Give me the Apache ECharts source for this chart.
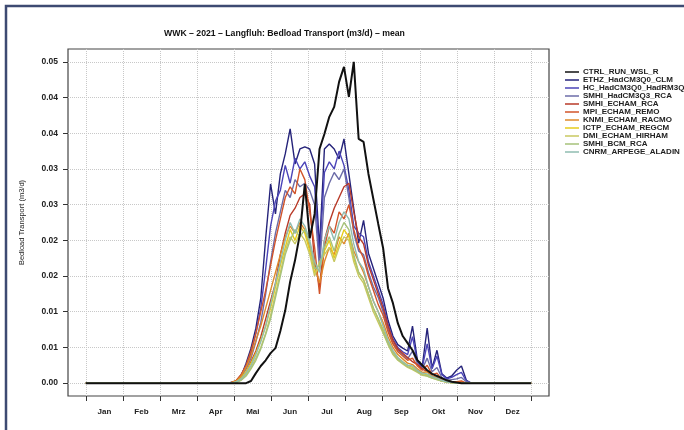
<!DOCTYPE html>
<html><head><meta charset="utf-8">
<script src="https://cdn.jsdelivr.net/npm/echarts@6/dist/echarts.min.js"></script>
<style>html,body{margin:0;padding:0;background:#fff}#c{width:684px;height:430px}</style>
</head><body><div id="c"></div>
<script>
// ---- data (values in 1e-3 m3/d) ----
const months = ['Jan','Feb','Mrz','Apr','Mai','Jun','Jul','Aug','Sep','Okt','Nov','Dez'];
const yTickValues = [0,0.005,0.01,0.015,0.02,0.025,0.03,0.035,0.04,0.045];
const yTickLabels = ['0.00','0.01','0.01','0.02','0.02','0.03','0.03','0.04','0.04','0.05'];
const days = [1,112,116,120,124,128,132,136,140,144,148,152,156,160,164,168,172,176,180,184,188,192,196,200,204,208,212,216,220,224,228,232,236,240,244,248,252,256,260,264,268,272,276,280,284,288,292,296,300,304,308,312,316,365];
const seriesNames = ['CTRL_RUN_WSL_R','ETHZ_HadCM3Q0_CLM','HC_HadCM3Q0_HadRM3Q','SMHI_HadCM3Q3_RCA','SMHI_ECHAM_RCA','MPI_ECHAM_REMO','KNMI_ECHAM_RACMO','ICTP_ECHAM_REGCM','DMI_ECHAM_HIRHAM','SMHI_BCM_RCA','CNRM_ARPEGE_ALADIN'];
const ctrl  = [0,0,0,0,0,0,0,0.3,1.4,2.4,3.2,4.2,4.9,7.3,10.2,14.2,17.2,20.9,27.9,20.3,23.7,32.8,34.9,37.3,38.7,42.2,44.3,40.1,45.0,34.2,33.8,29.3,25.8,22.3,18.9,13.3,11.2,8.4,6.6,5.6,4.6,3.2,2.5,1.8,1.3,1.0,0.7,0.4,0.2,0.1,0,0,0,0];
const ethz  = [0,0,0,0.1,0.2,1.0,2.8,4.9,7.7,11.9,20.3,27.9,23.7,29.3,32.1,35.6,30.7,32.8,33.1,32.8,30.7,18.9,32.8,33.5,32.8,31.4,34.2,29.3,24.4,19.6,22.8,18.2,16.1,14.0,11.9,8.8,6.6,5.4,4.9,4.5,8.0,3.2,2.4,7.7,2.1,4.6,1.3,0.7,1.0,1.8,2.4,0.4,0,0];
const hc    = [0,0,0,0.1,0.3,1.2,2.5,4.2,7.0,10.5,16.0,22.0,25.5,27.0,30.5,28.0,31.5,30.0,31.0,29.0,27.5,17.5,29.5,31.0,30.0,32.5,30.5,27.0,22.0,21.0,20.5,17.0,15.0,13.0,11.0,8.2,6.2,5.0,4.4,4.0,6.5,3.0,2.2,5.5,2.0,3.8,1.2,0.6,0.8,1.2,1.5,0.3,0,0];
const smhiH = [0,0,0,0.1,0.2,0.8,2.0,3.5,5.8,8.5,12.5,17.0,21.0,24.0,27.0,26.0,28.5,27.5,28.0,27.0,25.0,16.0,26.0,28.0,29.5,28.5,30.0,26.0,21.0,18.5,18.0,15.5,13.5,12.0,10.0,7.5,5.6,4.6,4.0,3.4,4.5,2.7,2.0,3.5,1.6,2.2,0.8,0.4,0.5,0.6,0.8,0.2,0,0];
const smhiE = [0,0,0,0,0.1,0.5,1.5,3.0,4.5,6.5,9.0,11.5,14.0,18.0,21.0,23.5,24.5,26.0,26.5,25.0,17.0,13.5,20.0,22.5,24.5,26.0,27.5,28.0,24.0,20.5,19.5,16.5,14.5,12.5,10.5,8.0,6.0,4.8,4.2,3.6,3.0,2.6,2.0,1.6,1.0,0.6,0.3,0.2,0.1,0,0,0,0,0];
const mpi   = [0,0,0,0.1,0.4,1.2,2.5,4.5,7.0,10.0,13.0,16.5,20.0,23.0,26.0,27.5,26.5,30.0,28.5,24.0,19.0,12.5,19.0,22.0,21.0,24.0,23.0,25.0,21.5,19.0,17.5,15.0,13.0,11.0,9.5,7.2,5.5,4.4,3.8,3.2,3.5,2.4,1.8,2.5,1.2,1.4,0.5,0.3,0.2,0.2,0.3,0,0,0];
const knmi  = [0,0,0,0.1,0.3,1.0,2.2,3.8,6.0,8.0,10.5,13.0,15.5,18.0,20.5,22.0,21.0,22.5,21.5,19.0,16.5,14.0,17.0,19.0,18.0,20.5,19.5,21.0,18.5,17.0,15.5,13.5,11.5,10.0,8.5,6.5,5.0,4.0,3.4,2.8,2.6,2.0,1.5,1.6,1.0,0.8,0.4,0.2,0.1,0.1,0.1,0,0,0];
const ictp  = [0,0,0,0,0.2,0.7,1.6,2.8,4.2,6.0,8.0,10.5,13.5,16.5,19.0,21.5,20.0,22.0,21.0,18.5,15.5,16.0,18.5,20.0,17.5,19.5,21.5,20.5,17.5,15.5,14.5,12.5,10.5,9.0,7.5,5.8,4.4,3.5,3.0,2.5,2.2,1.7,1.3,1.2,0.8,0.6,0.3,0.2,0.1,0,0,0,0,0];
const dmi   = [0,0,0,0,0.1,0.5,1.2,2.2,3.5,5.0,7.0,9.5,12.5,15.5,18.5,20.5,19.5,21.0,20.0,18.0,15.0,17.0,18.0,19.0,17.0,19.0,20.5,20.0,17.0,15.0,14.0,12.0,10.0,8.5,7.0,5.4,4.0,3.2,2.7,2.2,1.9,1.5,1.1,1.0,0.7,0.5,0.3,0.1,0.1,0,0,0,0,0];
const smhiB = [0,0,0,0,0.1,0.4,1.0,2.0,3.2,4.8,6.8,9.0,12.0,15.0,18.0,20.0,21.5,20.5,21.5,19.5,16.0,16.5,19.0,20.5,18.5,21.0,22.5,21.5,18.0,15.5,14.5,12.5,10.5,9.0,7.2,5.5,4.2,3.3,2.8,2.3,2.0,1.6,1.2,1.0,0.7,0.5,0.3,0.2,0.1,0,0,0,0,0];
const cnrm  = [0,0,0,0,0.2,0.6,1.4,2.5,4.0,5.8,8.0,11.0,14.0,17.0,20.0,22.5,21.0,23.0,22.0,20.0,17.0,15.5,20.0,22.0,20.0,22.5,24.0,23.0,19.5,17.0,16.0,13.5,11.5,10.0,8.0,6.0,4.6,3.6,3.0,2.5,2.4,1.8,1.4,1.3,0.9,0.7,0.4,0.2,0.1,0,0,0,0,0];
const colors = ['#111111','#25237a','#4b44b8','#6c6ca8','#b83a28','#d2542a','#df8a2a','#e6cc1c','#c8c860','#a6c27a','#8fbcb0'];

// ---- chart ----
const allVals = [ctrl,ethz,hc,smhiH,smhiE,mpi,knmi,ictp,dmi,smhiB,cnrm];
const step = 364/12;
const monthTicks = months.map((m,i)=>1+i*step).concat([365]);
const monthMids = months.map((m,i)=>1+(i+0.5)*step);
const font = 'Liberation Sans, Arial, sans-serif';
const series = allVals.map((vals,k)=>({
  name: seriesNames[k], type:'line', showSymbol:false, symbol:'none',
  data: days.map((d,i)=>[d, vals[i]/1000]),
  lineStyle:{color:colors[k], width: k===0?2:1.4}, itemStyle:{color:colors[k]},
  z: k===0 ? 3 : 2
}));
const chart = echarts.init(document.getElementById('c'), null, {renderer:'canvas'});
chart.setOption({
  animation:false,
  backgroundColor:'#fff',
  color: colors,
  title:{text:'WWK \u2013 2021 \u2013 Langfluh: Bedload Transport (m3/d) \u2013 mean', left:159, top:24,
    textStyle:{fontFamily:font, fontSize:8.7, fontWeight:'bold', color:'#111'}},
  grid:{left:68, top:49, width:481, height:347, show:true, borderColor:'#444', borderWidth:1.2, backgroundColor:'transparent'},
  legend:{orient:'vertical', left:560, top:63, itemWidth:14, itemHeight:1.5, icon:'rect', itemGap:0,
    data: seriesNames,
    textStyle:{fontFamily:font, fontSize:8, fontWeight:'bold', color:'#222', lineHeight:7.7, padding:[0,0,0,-1]}},
  xAxis:{type:'value', min:-13.56, max:379.56,
    axisLine:{show:false, onZero:false},
    axisTick:{show:true, inside:false, length:5, lineStyle:{color:'#333', width:1}, customValues: monthTicks},
    axisLabel:{customValues: monthMids, margin:12, fontFamily:font, fontSize:8, fontWeight:'bold', color:'#222',
      formatter:(v)=>months[Math.round((v-1)/step-0.5)]},
    splitLine:{show:true, lineStyle:{color:'#c8c8c8', type:'dotted', width:1}, customValues: monthTicks}
  },
  yAxis:{type:'value', min:-0.0018, max:0.0468,
    name:'Bedload Transport (m3/d)', nameLocation:'middle', nameGap:42, nameRotate:90,
    nameTextStyle:{fontFamily:font, fontSize:7.5, color:'#222'},
    axisLine:{show:false, onZero:false},
    axisTick:{show:true, inside:false, length:5, lineStyle:{color:'#333'}, customValues: yTickValues},
    axisLabel:{customValues: yTickValues, margin:10, fontFamily:font, fontSize:8.5, fontWeight:'bold', color:'#222',
      formatter:(v)=>yTickLabels[Math.round(v/0.005)]},
    splitLine:{show:true, lineStyle:{color:'#c8c8c8', type:'dotted', width:1}, customValues: yTickValues}
  },
  graphic:[{type:'rect', shape:{x:6, y:6, width:720, height:460}, style:{fill:null, stroke:'#3d4a72', lineWidth:2.5}, silent:true}],
  series: series
});
</script></body></html>
